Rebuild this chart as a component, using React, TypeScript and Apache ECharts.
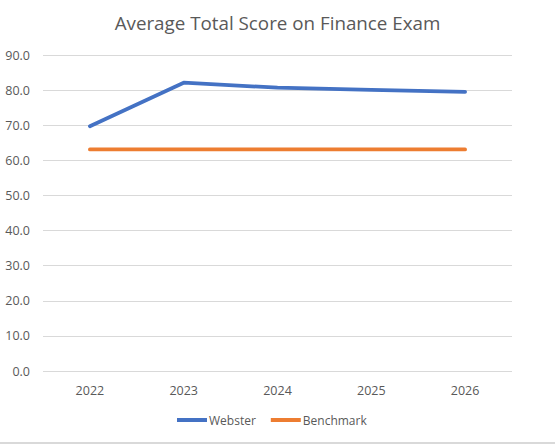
import React, { useEffect, useRef } from "react";
import * as echarts from "echarts";

const categories = ["2022", "2023", "2024", "2025", "2026"];
const websterValues = [69.7, 82.1, 80.7, 80.1, 79.5];
const benchmarkValues = [63.1, 63.1, 63.1, 63.1, 63.1];
const titleText = "Average Total Score on Finance Exam";

export default function App() {
  const ref = useRef<HTMLDivElement>(null);
  useEffect(() => {
    if (!ref.current) return;
    const chart = echarts.init(ref.current, null, { renderer: "svg" });
    const font = "'Open Sans', 'Noto Sans', sans-serif";
    chart.setOption({
      animation: false,
      backgroundColor: "#ffffff",
      title: {
        text: titleText,
        left: "center",
        top: 8,
        textStyle: { fontFamily: font, fontSize: 18.8, fontWeight: "normal", color: "#595959" },
      },
      legend: {
        bottom: 11,
        left: 172,
        itemWidth: 30,
        itemHeight: 4,
        itemGap: 15,
        icon: "rect",
        textStyle: { fontFamily: font, fontSize: 12, color: "#595959", padding: [0, 0, 0, -3] },
        data: ["Webster", "Benchmark"],
      },
      grid: { left: 43, right: 43, top: 55, bottom: 71, containLabel: false },
      xAxis: {
        type: "category",
        data: categories,
        boundaryGap: true,
        axisLine: { show: false },
        axisTick: { show: false },
        axisLabel: { fontFamily: font, fontSize: 12.5, color: "#595959", margin: 13 },
      },
      yAxis: {
        type: "value",
        min: 0,
        max: 90,
        interval: 10,
        axisLine: { show: false },
        axisTick: { show: false },
        splitLine: { lineStyle: { color: "#d9d9d9", width: 1 } },
        axisLabel: {
          fontFamily: font,
          fontSize: 12.5,
          color: "#595959",
          margin: 13,
          formatter: (v: number) => v.toFixed(1),
        },
      },
      series: [
        {
          name: "Webster",
          type: "line",
          data: websterValues,
          symbol: "none",
          lineStyle: { color: "#4472c4", width: 3.75, cap: "round" },
          itemStyle: { color: "#4472c4" },
        },
        {
          name: "Benchmark",
          type: "line",
          data: benchmarkValues,
          symbol: "none",
          lineStyle: { color: "#ed7d31", width: 3.75, cap: "round" },
          itemStyle: { color: "#ed7d31" },
        },
      ],
    });
    return () => chart.dispose();
  }, []);
  return (
    <div
      style={{
        position: "absolute",
        left: 0,
        top: 0,
        width: 555,
        height: 444,
        boxSizing: "border-box",
        borderBottom: "2px solid #d9d9d9",
        background: "#fff",
      }}
    >
      <div ref={ref} style={{ width: 555, height: 442 }} />
    </div>
  );
}
